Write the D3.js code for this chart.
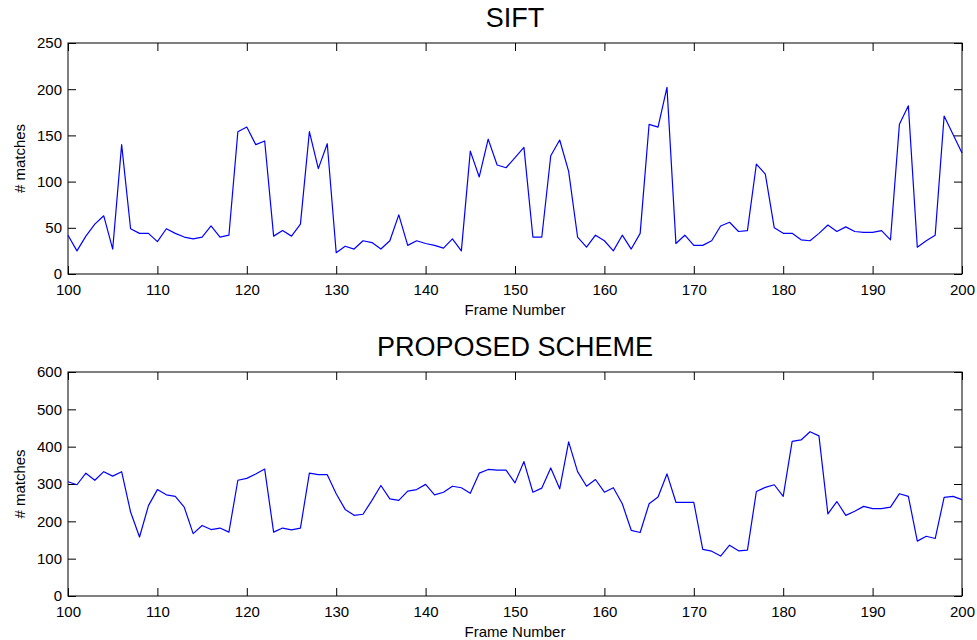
<!DOCTYPE html>
<html lang="en">

<head>
    <meta charset="UTF-8">
    <title>SIFT vs Proposed Scheme</title>
    <style>
        body { margin: 0; background: #fff; }
        text { font-family: "Liberation Sans", Arial, sans-serif; fill: #000; }
    </style>
</head>

<body>
    <script src="https://cdn.jsdelivr.net/npm/d3@7"></script>
    <script>
        const svg_w = 977;
        const svg_h = 640;

        // frame numbers on the x axis
        const frames = d3.range(100, 201);
        const xTicks = [100, 110, 120, 130, 140, 150, 160, 170, 180, 190, 200];

        // # matches, one value per frame (100..200)
        const siftMatches = [
            42, 25, 41, 54, 63, 27, 140, 49, 44, 44,
            35, 49, 44, 40, 38, 40, 52, 40, 42, 154,
            159, 140, 144, 41, 47, 41, 54, 154, 114, 141,
            23, 30, 27, 36, 34, 27, 36, 64, 31, 36,
            33, 31, 28, 38, 25, 133, 105, 146, 118, 115,
            126, 137, 40, 40, 128, 145, 111, 40, 29, 42,
            36, 25, 42, 27, 44, 162, 159, 202, 33, 42,
            31, 31, 36, 52, 56, 46, 47, 119, 108, 50,
            44, 44, 37, 36, 44, 53, 46, 51, 46, 45,
            45, 47, 37, 162, 182, 29, 36, 42, 171, 151, 131
        ];
        const siftTicks = [0, 50, 100, 150, 200, 250];

        const proposedMatches = [
            306, 298, 329, 310, 333, 321, 333, 225, 158, 242,
            285, 271, 267, 238, 167, 189, 178, 182, 171, 310,
            315, 327, 340, 171, 182, 177, 182, 329, 325, 325,
            274, 232, 216, 219, 256, 296, 260, 256, 281, 285,
            299, 271, 278, 294, 290, 275, 329, 339, 337, 337,
            303, 360, 278, 289, 343, 287, 413, 333, 294, 312,
            278, 290, 247, 176, 170, 247, 265, 327, 251, 251,
            251, 125, 120, 107, 136, 121, 123, 280, 291, 298,
            267, 414, 418, 440, 429, 220, 253, 216, 227, 240,
            234, 234, 238, 274, 267, 147, 160, 154, 264, 267, 258
        ];
        const proposedTicks = [0, 100, 200, 300, 400, 500, 600];

        const svg = d3.select('body')
            .append('svg')
            .attr('width', svg_w)
            .attr('height', svg_h)
            .style('display', 'block');

        const left = 68;
        const right = 962;

        function drawPanel(title, values, yTicks, top, bottom) {
            const x = d3.scaleLinear().domain([100, 200]).range([left, right]);
            const y = d3.scaleLinear().domain([0, d3.max(yTicks)]).range([bottom, top]);
            const g = svg.append('g');

            // box
            g.append('rect')
                .attr('x', left).attr('y', top)
                .attr('width', right - left).attr('height', bottom - top)
                .attr('fill', 'none').attr('stroke', '#000').attr('stroke-width', 1);

            const styleAxis = sel => {
                sel.select('.domain').remove();
                sel.selectAll('line').attr('stroke', '#000');
                sel.selectAll('text').style('font-size', '15px').attr('fill', '#000');
            };

            g.append('g')
                .attr('transform', `translate(0,${bottom})`)
                .call(d3.axisBottom(x).tickValues(xTicks).tickSizeInner(-8).tickSizeOuter(0).tickPadding(10).tickFormat(d3.format('d')))
                .call(styleAxis);
            g.append('g')
                .attr('transform', `translate(0,${top})`)
                .call(d3.axisTop(x).tickValues(xTicks).tickSizeInner(-8).tickSizeOuter(0).tickFormat(''))
                .call(styleAxis);
            g.append('g')
                .attr('transform', `translate(${left},0)`)
                .call(d3.axisLeft(y).tickValues(yTicks).tickSizeInner(-8).tickSizeOuter(0).tickPadding(6))
                .call(styleAxis);
            g.append('g')
                .attr('transform', `translate(${right},0)`)
                .call(d3.axisRight(y).tickValues(yTicks).tickSizeInner(-8).tickSizeOuter(0).tickFormat(''))
                .call(styleAxis);

            const line = d3.line()
                .x((d, i) => x(frames[i]))
                .y(d => y(d));

            g.append('path')
                .datum(values)
                .attr('d', line)
                .attr('fill', 'none')
                .attr('stroke', '#0000ff')
                .attr('stroke-width', 1.2)
                .attr('stroke-linejoin', 'round');

            g.append('text')
                .attr('x', (left + right) / 2)
                .attr('y', top - 16)
                .attr('text-anchor', 'middle')
                .style('font-size', '27px')
                .text(title);

            g.append('text')
                .attr('x', (left + right) / 2)
                .attr('y', bottom + 41)
                .attr('text-anchor', 'middle')
                .style('font-size', '15px')
                .text('Frame Number');

            g.append('text')
                .attr('transform', `translate(25,${(top + bottom) / 2}) rotate(-90)`)
                .attr('text-anchor', 'middle')
                .style('font-size', '15px')
                .text('# matches');
        }

        drawPanel('SIFT', siftMatches, siftTicks, 43, 274);
        drawPanel('PROPOSED SCHEME', proposedMatches, proposedTicks, 372, 596);
    </script>
</body>

</html>
